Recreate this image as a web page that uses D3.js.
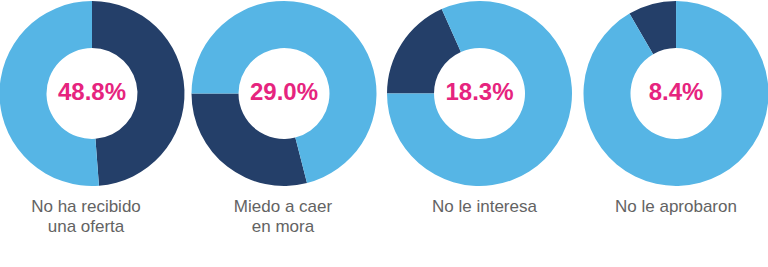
<!DOCTYPE html>
<html>
<head>
<meta charset="utf-8">
<script src="https://cdn.jsdelivr.net/npm/d3@7"></script>
<style>
  html, body { margin: 0; padding: 0; background: #fff; }
  svg { display: block; }
</style>
</head>
<body>
<div id="chart"></div>
<script>
// Data
const categories = ["No ha recibido una oferta", "Miedo a caer en mora", "No le interesa", "No le aprobaron"];
const labelLines = [["No ha recibido", "una oferta"], ["Miedo a caer", "en mora"], ["No le interesa"], ["No le aprobaron"]];
const percentages = [48.8, 29.0, 18.3, 8.4];

// Layout
const width = 768, height = 267;
const centersX = [92, 284, 479.5, 676];
const centerY = 93.5;
const outerR = 92.5, innerR = 45.5;
// where the dark slice begins (degrees, clockwise from 12 o'clock)
const rotations = [0, 165.6, 270, 329.8];
const labelShift = [-6, -1, 5, 0];

const darkColor = "#243f69";
const lightColor = "#56b5e5";
const pink = "#e6247e";

const svg = d3.select("#chart").append("svg")
  .attr("width", width)
  .attr("height", height);

const arc = d3.arc().innerRadius(innerR).outerRadius(outerR);

const pie = d3.pie().sort(null).value(d => d);

percentages.forEach((p, i) => {
  const rot = rotations[i] * Math.PI / 180;
  const g = svg.append("g")
    .attr("transform", `translate(${centersX[i]},${centerY})`);

  const slices = pie.startAngle(rot).endAngle(rot + 2 * Math.PI)([p, 100 - p]);

  g.selectAll("path")
    .data(slices)
    .enter()
    .append("path")
    .attr("d", arc)
    .attr("fill", (d, j) => j === 0 ? darkColor : lightColor);

  g.append("text")
    .attr("x", 0)
    .attr("y", 6.5)
    .attr("text-anchor", "middle")
    .style("font-family", "'Liberation Sans', Arial, sans-serif")
    .style("font-weight", "bold")
    .style("font-size", "24px")
    .style("fill", pink)
    .text(p.toFixed(1) + "%");

  const label = svg.append("text")
    .attr("text-anchor", "middle")
    .style("font-family", "'Liberation Sans', Arial, sans-serif")
    .style("font-size", "17px")
    .style("fill", "#636363");

  labelLines[i].forEach((line, k) => {
    label.append("tspan")
      .attr("x", centersX[i] + labelShift[i])
      .attr("y", 212 + k * 20)
      .text(line);
  });
});
</script>
</body>
</html>
